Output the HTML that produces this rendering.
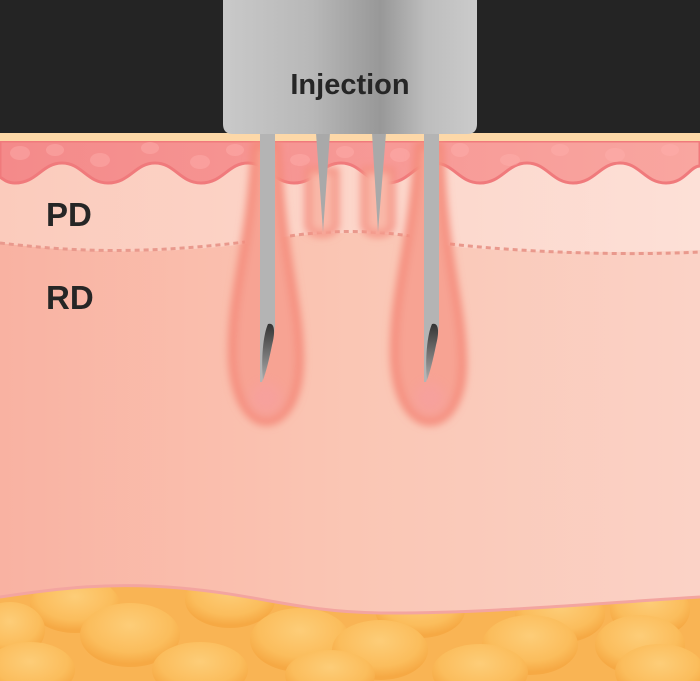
<!DOCTYPE html>
<html><head><meta charset="utf-8"><style>
html,body{margin:0;padding:0;background:#fff}
svg{display:block}
</style></head><body>
<svg width="700" height="681" viewBox="0 0 700 681" xmlns="http://www.w3.org/2000/svg">
<defs>
<linearGradient id="derm" x1="0" x2="1" y1="0" y2="0">
<stop offset="0" stop-color="#f9b2a2"/><stop offset="0.5" stop-color="#fac6b4"/><stop offset="1" stop-color="#fbd2c6"/>
</linearGradient>
<linearGradient id="pd" x1="0" x2="1">
<stop offset="0" stop-color="#fbcbbc"/><stop offset="1" stop-color="#fde0d7"/>
</linearGradient>
<linearGradient id="epi" x1="0" x2="1">
<stop offset="0" stop-color="#f48a8a"/><stop offset="1" stop-color="#f9a6a0"/>
</linearGradient>
<linearGradient id="dev" x1="0" x2="1">
<stop offset="0" stop-color="#c9c9c9"/><stop offset="0.35" stop-color="#b8b8b8"/><stop offset="0.62" stop-color="#989898"/><stop offset="0.8" stop-color="#bdbdbd"/><stop offset="1" stop-color="#cbcbcb"/>
</linearGradient>
<linearGradient id="bev" x1="0" x2="0" y1="0" y2="1">
<stop offset="0" stop-color="#333"/><stop offset="1" stop-color="#aaa"/>
</linearGradient>
<radialGradient id="fat" cx="0.5" cy="0.35" r="0.6">
<stop offset="0" stop-color="#fdcd78"/><stop offset="0.7" stop-color="#fbbd5c"/><stop offset="1" stop-color="#f6a944"/>
</radialGradient>
<filter id="blur" x="-50%" y="-20%" width="200%" height="140%"><feGaussianBlur stdDeviation="4"/></filter>
<filter id="blur2" x="-50%" y="-50%" width="200%" height="200%"><feGaussianBlur stdDeviation="6"/></filter>
<clipPath id="fatclip"><path d="M0,597 C60,588 110,582 180,588 C260,595 300,612 380,613 C480,614 600,603 700,597 L700,681 L0,681Z"/></clipPath>
</defs>

<rect x="0" y="133" width="700" height="548" fill="url(#derm)"/>
<path d="M0,141 L700,141 L700,250 C600,254 500,252 450,246 L410,236 C370,232 330,232 290,236 L245,244 C180,252 100,256 0,243Z" fill="url(#pd)"/>
<path d="M0,243 C60,250 130,256 245,242 M290,236 C330,230 370,230 410,236 M450,244 C520,252 620,256 700,252" fill="none" stroke="#e9998d" stroke-width="3" stroke-dasharray="5,4"/>

<path d="M0,141 L700,141 L700,166 C690,166 685,183 666,183 C645,183 640,163 620,163 C600,163 595,183 573,183 C552,183 547,163 527,163 C507,163 502,183 480,183 C459,183 454,163 434,163 C414,163 409,183 387,183 C366,183 361,163 341,163 C321,163 316,183 294,183 C273,183 268,163 248,163 C228,163 223,183 201,183 C180,183 175,163 155,163 C135,163 130,183 108,183 C87,183 82,163 62,163 C42,163 37,183 15,183 C8,183 4,180 0,177Z" fill="url(#epi)" stroke="#f07a7c" stroke-width="3"/>
<g fill="#ffb0ad" opacity="0.45">
<ellipse cx="20" cy="153" rx="10" ry="7"/><ellipse cx="55" cy="150" rx="9" ry="6"/><ellipse cx="100" cy="160" rx="10" ry="7"/><ellipse cx="150" cy="148" rx="9" ry="6"/><ellipse cx="200" cy="162" rx="10" ry="7"/><ellipse cx="235" cy="150" rx="9" ry="6"/><ellipse cx="300" cy="160" rx="10" ry="6"/><ellipse cx="345" cy="152" rx="9" ry="6"/><ellipse cx="400" cy="155" rx="10" ry="7"/><ellipse cx="460" cy="150" rx="9" ry="7"/><ellipse cx="510" cy="160" rx="10" ry="6"/><ellipse cx="560" cy="150" rx="9" ry="6"/><ellipse cx="615" cy="155" rx="10" ry="7"/><ellipse cx="670" cy="150" rx="9" ry="6"/>
</g>

<!-- glows -->
<g filter="url(#blur)">
<path d="M255,145 C250,250 230,290 232,360 C234,400 250,422 266,422 C284,422 300,400 300,360 C300,300 282,260 277,145Z" fill="#f7a393" stroke="#f48878" stroke-width="7"/>
<path d="M418,145 C412,250 392,290 394,360 C396,400 412,422 430,422 C448,422 464,400 463,360 C462,300 444,260 440,145Z" fill="#f7a393" stroke="#f48878" stroke-width="7"/>
<path d="M308,170 L308,225 C308,237 336,237 336,225 L336,170Z" fill="#f9b8a8" stroke="#f48e80" stroke-width="6"/>
<path d="M364,170 L364,225 C364,237 392,237 392,225 L392,170Z" fill="#f9b8a8" stroke="#f48e80" stroke-width="6"/>
</g>
<g filter="url(#blur2)" fill="#f7a0a0" opacity="0.7">
<ellipse cx="266" cy="398" rx="16" ry="16"/><ellipse cx="430" cy="398" rx="16" ry="16"/>
</g>

<g clip-path="url(#fatclip)">
<rect x="0" y="580" width="700" height="101" fill="#f9b454"/>
<g fill="url(#fat)">
<ellipse cx="75" cy="605" rx="45" ry="28"/><ellipse cx="230" cy="600" rx="45" ry="28"/><ellipse cx="420" cy="610" rx="45" ry="28"/><ellipse cx="560" cy="615" rx="45" ry="28"/><ellipse cx="650" cy="610" rx="40" ry="28"/>
<ellipse cx="10" cy="630" rx="35" ry="28"/><ellipse cx="130" cy="635" rx="50" ry="32"/><ellipse cx="300" cy="640" rx="50" ry="32"/><ellipse cx="380" cy="650" rx="48" ry="30"/><ellipse cx="530" cy="645" rx="48" ry="30"/><ellipse cx="640" cy="645" rx="45" ry="30"/>
<ellipse cx="30" cy="670" rx="45" ry="28"/><ellipse cx="200" cy="670" rx="48" ry="28"/><ellipse cx="330" cy="675" rx="45" ry="25"/><ellipse cx="480" cy="672" rx="48" ry="28"/><ellipse cx="660" cy="672" rx="45" ry="28"/>
</g>
</g>
<path d="M0,597 C60,588 110,582 180,588 C260,595 300,612 380,613 C480,614 600,603 700,597" fill="none" stroke="#f3a5a0" stroke-width="3"/>

<rect x="0" y="0" width="700" height="133" fill="#242424"/>
<rect x="0" y="133" width="700" height="8" fill="#fdd8a8"/>

<!-- needles -->
<path d="M260,130 L275,130 L275,325 C273,345 268,365 262,382 L260,382Z" fill="#b4b4b4"/>
<path d="M268,324 C274,322 276,330 272,345 C269,360 266,372 263,380 C261,360 263,335 268,324Z" fill="url(#bev)"/>
<path d="M424,130 L439,130 L439,325 C437,345 432,365 426,382 L424,382Z" fill="#b4b4b4"/>
<path d="M432,324 C438,322 440,330 436,345 C433,360 430,372 427,380 C425,360 427,335 432,324Z" fill="url(#bev)"/>
<path d="M316,133 L330,133 L323,232Z" fill="#a9a9a9"/>
<path d="M372,133 L386,133 L378,232Z" fill="#a9a9a9"/>

<path d="M223,0 L477,0 L477,124 Q477,134 467,134 L233,134 Q223,134 223,124Z" fill="url(#dev)"/>
<text x="350" y="94" text-anchor="middle" font-family="Liberation Sans, sans-serif" font-weight="bold" font-size="29" fill="#262626">Injection</text>

<text x="46" y="226" font-family="Liberation Sans, sans-serif" font-weight="bold" font-size="33" fill="#262626">PD</text>
<text x="46" y="309" font-family="Liberation Sans, sans-serif" font-weight="bold" font-size="33" fill="#262626">RD</text>
</svg>
</body></html>
